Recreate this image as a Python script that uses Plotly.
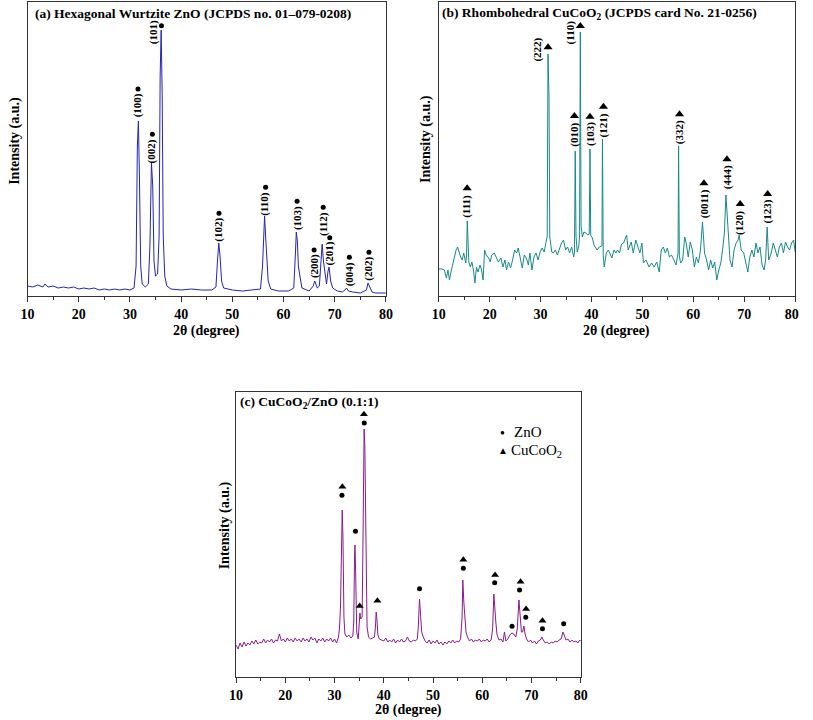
import plotly.graph_objects as go

W, H = 813, 720

# ---------------- Panel (a): Hexagonal Wurtzite ZnO ----------------
a_x = [10, 11, 12, 13, 13.4, 14, 15, 16, 17, 18, 19, 20, 21, 22, 23, 24, 25, 26, 27, 28, 29, 30,
       30.8, 31.2, 31.45, 31.65, 31.85, 32.1, 32.4, 33, 33.6, 33.9, 34.2, 34.45, 34.7, 35.0, 35.4,
       35.7, 35.9, 36.1, 36.3, 36.5, 36.8, 37.2, 38, 40, 42, 44, 46, 46.8, 47.1, 47.35, 47.6, 47.9,
       48.3, 50, 52, 54, 55.5, 55.9, 56.15, 56.3, 56.5, 56.7, 57.0, 57.5, 59, 61, 62, 62.3, 62.5,
       62.7, 62.9, 63.2, 63.6, 65, 65.8, 66.1, 66.4, 66.6, 67.0, 67.3, 67.55, 67.8, 68.1, 68.4,
       68.7, 68.9, 69.2, 69.6, 70.5, 71.5, 72.0, 72.3, 72.7, 73.5, 75, 76.2, 76.5, 76.8, 77.3, 78, 80]
a_y = [10, 9, 11, 9, 12, 9, 10, 8, 9, 8, 9, 7, 8, 7, 8, 6, 7, 6, 7, 6, 7, 6,
       8, 30, 150, 175, 120, 30, 12, 9, 12, 50, 133, 110, 35, 20, 22,
       60, 220, 266, 200, 60, 20, 10, 7, 6, 7, 6, 6, 9, 35, 53, 40, 15,
       8, 6, 5, 6, 7, 30, 75, 80, 60, 45, 15, 7, 5, 5, 8, 40, 64,
       55, 30, 20, 8, 5, 10, 15, 10, 8, 10, 30, 52, 35, 22, 12,
       25, 29, 15, 8, 5, 4, 6, 8, 5, 4, 3, 6, 13, 9, 4, 3, 3]

a_lab = ["(101)", "(100)", "(002)", "(102)", "(110)", "(103)", "(200)", "(112)", "(201)", "(004)", "(202)"]
a_lab_x = [34.5, 31.5, 34.25, 47.4, 56.4, 62.65, 65.97, 67.75, 69.03, 72.86, 76.69]
a_lab_y = [263.7, 190.3, 144.3, 66.3, 92.3, 78, 30, 72.3, 42.3, 22, 27.3]
a_dot_x = [36.16, 31.57, 34.38, 47.4, 56.5, 62.65, 65.97, 67.75, 69.03, 72.86, 76.69]
a_dot_y = [270.3, 207, 161.7, 82.7, 108.7, 94.7, 46, 88.7, 58.3, 38.7, 43.7]

# ---------------- Panel (b): Rhombohedral CuCoO2 ----------------
b_x = [10.0, 10.6, 11.1, 11.5, 11.8, 12.1, 12.4, 12.8, 13.1, 13.4, 13.7, 14.0, 14.3, 14.6, 14.9,
       15.3, 15.45, 15.6, 15.75, 15.9, 16.2, 16.5, 16.8, 17.1, 17.4, 17.7, 18.1, 18.4, 18.7, 19.0,
       19.3, 19.8, 20.1, 20.4, 20.9, 21.3, 21.7, 22.2, 22.6, 23.0, 23.3, 23.7, 24.1, 24.5, 24.9,
       25.3, 25.6, 26.0, 26.4, 26.8, 27.2, 27.6, 27.9, 28.3, 28.7, 29.1, 29.5, 29.9, 30.3, 30.7,
       31.0, 31.3, 31.45, 31.65, 31.8, 32.2, 32.5, 32.9, 33.3, 33.7, 34.1, 34.5, 34.9, 35.3, 35.7,
       36.1, 36.5, 36.65, 36.8, 36.95, 37.2, 37.5, 37.65, 37.8, 37.95, 38.2, 38.5, 38.9, 39.3,
       39.55, 39.7, 39.85, 40.1, 40.5, 40.8, 41.1, 41.5, 41.9, 42.05, 42.15, 42.3, 42.5, 42.9,
       43.3, 43.7, 44.0, 44.4, 44.8, 45.1, 45.5, 45.9, 46.3, 46.9, 47.2, 47.8, 48.2, 48.7, 49.1,
       49.5, 49.9, 50.2, 50.7, 51.3, 51.8, 52.3, 52.8, 53.3, 53.7, 54.1, 54.5, 54.9, 55.3, 55.7,
       56.2, 56.6, 57.0, 57.1, 57.25, 57.5, 57.9, 58.3, 58.6, 59.0, 59.4, 59.8, 60.2, 60.6, 61.0,
       61.4, 61.8, 62.2, 62.6, 63.0, 63.4, 63.8, 64.2, 64.6, 65.0, 65.4, 65.8, 66.1, 66.4, 66.8,
       67.2, 67.6, 68.0, 68.4, 68.8, 69.0, 69.4, 69.9, 70.3, 70.7, 71.1, 71.5, 71.9, 72.3, 72.7,
       73.1, 73.5, 73.9, 74.2, 74.5, 74.8, 75.3, 75.7, 76.1, 76.5, 76.9, 77.3, 77.7, 78.1, 78.5,
       78.9, 79.3, 79.7, 80.0]
b_y = [27, 27, 26, 18, 26, 16, 24, 34, 41, 46, 49, 43, 39, 36, 43,
       33, 40, 75, 38, 34, 29, 34, 26, 13, 29, 24, 31, 26, 16, 46,
       41, 38, 34, 41, 43, 38, 34, 38, 29, 36, 26, 34, 28, 36, 46,
       43, 48, 38, 28, 41, 38, 31, 43, 26, 39, 43, 36, 44, 48, 44,
       53, 60, 242, 200, 59, 44, 43, 46, 41, 48, 53, 56, 46, 49, 43,
       49, 39, 44, 145, 60, 44, 50, 60, 264, 70, 59, 64, 63, 61,
       62, 147, 60, 59, 51, 49, 46, 49, 50, 50, 157, 40, 29, 43,
       46, 41, 38, 46, 43, 46, 43, 52, 53, 61, 46, 54, 43, 56, 49,
       43, 53, 33, 36, 29, 33, 29, 34, 24, 46, 49, 43, 48, 39, 41,
       36, 31, 43, 150, 40, 33, 36, 59, 53, 39, 54, 46, 29, 39, 33,
       46, 74, 43, 36, 26, 36, 28, 34, 16, 26, 33, 49, 63, 101, 63,
       36, 29, 46, 53, 56, 61, 46, 43, 34, 24, 39, 46, 39, 53, 43,
       49, 31, 26, 36, 69, 36, 43, 53, 46, 39, 49, 53, 43, 54, 49,
       46, 53, 56, 44]

b_lab = ["(111)", "(222)", "(110)", "(010)", "(103)", "(121)", "(332)", "(0011)", "(444)", "(120)", "(123)"]
b_lab_x = [15.57, 29.41, 35.8, 36.5, 39.7, 42.35, 57.28, 62.08, 66.6, 69.2, 74.6]
b_lab_y = [89.3, 246, 263.7, 161, 162, 171, 164.3, 92.7, 118.7, 73.3, 84.3]
b_tri_x = [15.57, 31.46, 37.8, 36.65, 39.7, 42.35, 57.28, 62.08, 66.6, 69.2, 74.6]
b_tri_y = [107.7, 248.7, 270, 180, 179.3, 189.3, 181.7, 112.7, 136.7, 92, 102]

# ---------------- Panel (c): CuCoO2/ZnO (0.1:1) ----------------
c_x = [10.0, 10.4, 10.8, 11.2, 11.6, 12.0, 12.4, 12.8, 13.2, 13.6, 14.0, 14.4, 14.8, 15.2, 15.6,
       16.0, 16.4, 16.8, 17.2, 17.6, 18.0, 18.4, 18.8, 19.2, 19.6, 20.0, 20.4, 20.8, 21.2, 21.6,
       22.0, 22.4, 22.8, 23.2, 23.6, 24.0, 24.4, 24.8, 25.2, 25.6, 26.0, 26.4, 26.8, 27.2, 27.6,
       28.0, 28.4, 28.8, 29.2, 29.6, 30.0, 30.4, 30.8, 31.0, 31.2, 31.4, 31.55, 31.7, 31.9, 32.1,
       32.5, 32.9, 33.3, 33.7, 33.9, 34.05, 34.15, 34.3, 34.5, 34.8, 35.0, 35.15, 35.3, 35.6, 35.8,
       36.0, 36.15, 36.35, 36.6, 36.9, 37.3, 37.7, 38.1, 38.3, 38.45, 38.6, 38.8, 39.1, 39.5, 40.0,
       40.4, 40.8, 41.2, 41.6, 42.0, 42.4, 42.8, 43.2, 43.6, 44.0, 44.4, 44.8, 45.2, 45.6, 46.0,
       46.4, 46.8, 47.0, 47.25, 47.45, 47.7, 48.0, 48.4, 48.8, 49.2, 49.6, 50.0, 50.4, 50.8, 51.2,
       51.6, 52.0, 52.4, 52.8, 53.2, 53.6, 54.0, 54.4, 54.8, 55.2, 55.6, 55.9, 56.05, 56.25, 56.45,
       56.7, 57.0, 57.4, 57.8, 58.2, 58.6, 59.0, 59.4, 59.8, 60.2, 60.6, 61.0, 61.4, 61.8, 62.1,
       62.35, 62.55, 62.75, 63.0, 63.4, 63.8, 64.2, 64.5, 64.8, 65.2, 65.6, 66.0, 66.4, 66.8, 67.1,
       67.45, 67.7, 67.95, 68.2, 68.45, 68.7, 69.0, 69.4, 69.8, 70.2, 70.6, 71.0, 71.4, 71.8, 72.1,
       72.4, 72.8, 73.2, 73.6, 74.0, 74.4, 74.8, 75.2, 75.6, 76.0, 76.4, 76.7, 77.0, 77.4, 77.8,
       78.2, 78.6, 79.0, 79.4, 79.8, 80.0]
c_y = [32, 28, 34, 30, 35, 31, 34, 32, 36, 33, 37, 33, 35, 34, 38,
       34, 37, 35, 38, 34, 37, 36, 43, 36, 38, 35, 39, 36, 38, 35,
       39, 36, 38, 35, 39, 36, 38, 35, 40, 37, 39, 34, 38, 36, 39,
       35, 38, 36, 39, 35, 38, 34, 40, 49, 70, 150, 167, 140, 60, 43,
       40, 42, 39, 41, 55, 120, 132, 100, 45, 38, 50, 64, 58, 60, 150,
       248, 230, 120, 50, 40, 38, 39, 40, 50, 65, 58, 42, 38, 37, 36,
       39, 35, 37, 35, 38, 34, 37, 35, 38, 35, 36, 40, 36, 35, 37,
       36, 38, 50, 78, 60, 45, 40, 36, 34, 37, 33, 36, 34, 37, 33,
       35, 32, 35, 33, 36, 34, 37, 34, 36, 35, 38, 60, 97, 75, 62,
       45, 40, 36, 38, 35, 37, 36, 38, 35, 37, 36, 38, 35, 37, 48,
       83, 65, 55, 42, 37, 38, 35, 45, 36, 38, 42, 44, 43, 40, 48,
       77, 60, 45, 45, 51, 43, 38, 35, 37, 34, 36, 33, 36, 37, 40,
       37, 34, 35, 33, 35, 34, 36, 35, 37, 38, 45, 40, 37, 38, 35,
       37, 35, 36, 34, 37, 36]

c_zno_x = [31.5, 34.24, 36.03, 47.25, 56.15, 62.52, 66.04, 67.57, 68.83, 72.22, 76.53]
c_zno_y = [181.7, 145.7, 254, 88.3, 108.7, 94.3, 50.7, 87, 59.7, 48.3, 53.3]
c_cu_x = [31.58, 35.96, 35.1, 38.7, 56.15, 62.6, 67.77, 68.9, 72.22]
c_cu_y = [190.3, 262.7, 71, 76.3, 117.3, 102, 95.3, 68, 56.3]

x_ticks = [10, 20, 30, 40, 50, 60, 70, 80]
x_tick_text = ["10", "20", "30", "40", "50", "60", "70", "80"]
x_tick_text_b = ["10", "20", "30", "40", "50", "60", "70", "80\u2002"]

SERIF = "Liberation Serif"


def dx(l, r):
    return [l / W, r / W]


def dy(t, b):
    return [1 - b / H, 1 - t / H]


fig = go.Figure()

fig.add_trace(go.Scatter(x=a_x, y=a_y, mode="lines", line=dict(color="#2424b8", width=1),
                         xaxis="x", yaxis="y", showlegend=False))
fig.add_trace(go.Scatter(x=a_dot_x, y=a_dot_y, mode="markers",
                         marker=dict(symbol="circle", size=5, color="black"),
                         xaxis="x", yaxis="y", showlegend=False))

fig.add_trace(go.Scatter(x=b_x, y=b_y, mode="lines", line=dict(color="#178a8a", width=1),
                         xaxis="x2", yaxis="y2", showlegend=False))
fig.add_trace(go.Scatter(x=b_tri_x, y=b_tri_y, mode="markers",
                         marker=dict(symbol="triangle-up", size=8, color="black"),
                         xaxis="x2", yaxis="y2", showlegend=False))

fig.add_trace(go.Scatter(x=c_x, y=c_y, mode="lines", line=dict(color="#8e1a8e", width=1),
                         xaxis="x3", yaxis="y3", showlegend=False))
fig.add_trace(go.Scatter(x=c_zno_x, y=c_zno_y, mode="markers",
                         marker=dict(symbol="circle", size=5, color="black"),
                         xaxis="x3", yaxis="y3", showlegend=False))
fig.add_trace(go.Scatter(x=c_cu_x, y=c_cu_y, mode="markers",
                         marker=dict(symbol="triangle-up", size=7, color="black"),
                         xaxis="x3", yaxis="y3", showlegend=False))

xcommon = dict(range=[10, 80], tickmode="array", tickvals=x_ticks, ticks="outside", ticklen=5,
               tickwidth=1, tickcolor="#333", showline=True, linecolor="#333", linewidth=1,
               mirror=True, showgrid=False, zeroline=False,
               tickfont=dict(family=SERIF, size=14, color="black", weight="bold"),
               minor=dict(dtick=5, tick0=0, ticks="outside", ticklen=3, tickcolor="#333", showgrid=False))
ycommon = dict(showline=True, linecolor="#333", linewidth=1, mirror=True, showgrid=False,
               zeroline=False, showticklabels=False, ticks="")

fig.update_layout(
    width=W, height=H, autosize=False, margin=dict(l=0, r=0, t=0, b=0),
    paper_bgcolor="white", plot_bgcolor="white",
    xaxis=dict(domain=dx(21, 387), anchor="y", ticktext=x_tick_text, **xcommon),
    yaxis=dict(domain=dy(2, 296), range=[0, 294], anchor="x", **ycommon),
    xaxis2=dict(domain=dx(441, 805), anchor="y2", ticktext=x_tick_text_b, **xcommon),
    yaxis2=dict(domain=dy(2, 296), range=[0, 294], anchor="x2", **ycommon),
    xaxis3=dict(domain=dx(234, 586), anchor="y3", ticktext=x_tick_text, **xcommon),
    yaxis3=dict(domain=dy(392, 677), range=[0, 285], anchor="x3", **ycommon),
)

ann = []
labfont = dict(family=SERIF, size=11, color="black", weight="bold")
for t, x, y in zip(a_lab, a_lab_x, a_lab_y):
    ann.append(dict(text=t, x=x, y=y, xref="x", yref="y", showarrow=False, textangle=-90,
                    font=labfont, xanchor="center", yanchor="middle"))
for t, x, y in zip(b_lab, b_lab_x, b_lab_y):
    ann.append(dict(text=t, x=x, y=y, xref="x2", yref="y2", showarrow=False, textangle=-90,
                    font=labfont, xanchor="center", yanchor="middle"))


def paper_text(text, px, py, size, bold=True, xanchor="left", angle=0):
    f = dict(family=SERIF, size=size, color="black")
    if bold:
        f["weight"] = "bold"
    return dict(text=text, x=px / W, y=1 - py / H, xref="paper", yref="paper", showarrow=False,
                font=f, xanchor=xanchor, yanchor="middle", textangle=angle)


ann.append(paper_text("(a) Hexagonal Wurtzite ZnO (JCPDS no. 01\u2013079-0208)", 27, 13, 13.5))
ann.append(paper_text("(b) Rhombohedral CuCoO<sub>2</sub> (JCPDS card No. 21-0256)", 442, 13, 13.5))
ann.append(paper_text("(c) CuCoO<sub>2</sub>/ZnO (0.1:1)", 236, 402, 13.5))

for px, py in [(8, 141), (428, 139), (223, 525)]:
    ann.append(paper_text("Intensity (a.u.)", px, py, 14, xanchor="center", angle=-90))
for px, py in [(204, 331), (623, 331), (410, 710)]:
    ann.append(paper_text("2\u03b8 (degree)", px, py, 14, xanchor="center"))

# legend of panel (c)
ann.append(paper_text("\u25cf", 506.5, 432, 8, bold=False, xanchor="center"))
ann.append(paper_text("ZnO", 516, 432, 15, bold=False))
ann.append(paper_text("\u25b2", 506.5, 450, 10, bold=False, xanchor="center"))
ann.append(paper_text("CuCoO<sub>2</sub>", 513, 451, 15, bold=False))

fig.update_layout(annotations=ann)

fig.write_html(
    "out.html",
    config={"responsive": False, "displayModeBar": False},
    post_script="document.body.style.margin='0px';document.body.style.overflow='hidden';",
)
